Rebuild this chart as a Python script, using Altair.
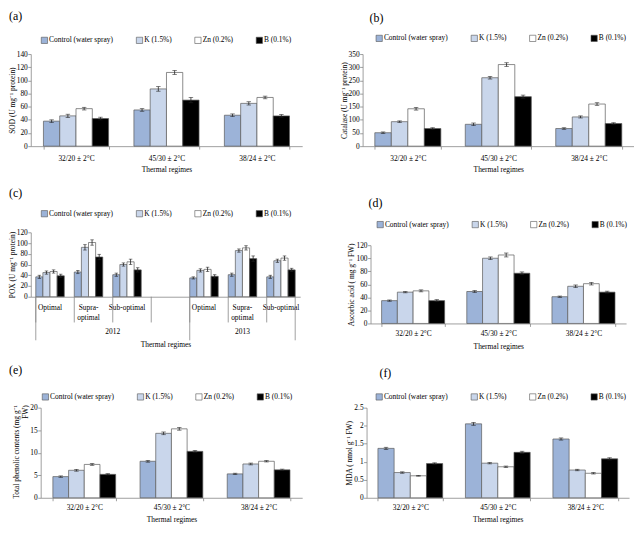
import altair as alt
import pandas as pd

FONT = "Liberation Serif"

treatments = ["Control (water spray)", "K (1.5%)", "Zn (0.2%)", "B (0.1%)"]
fill_colors = ["#9cb3d8", "#c9d6eb", "#ffffff", "#000000"]
regimes = ["32/20 ± 2°C", "45/30 ± 2°C", "38/24 ± 2°C"]

# (a) SOD
sod_control = [38, 55, 47]
sod_k = [46, 87, 65]
sod_zn = [57, 112, 74]
sod_b = [42, 70, 46]
sod_err = [[2, 2, 2], [2.5, 3.5, 2.5], [2, 3, 2], [2, 4, 2]]

# (b) Catalase
cat_control = [51, 83, 67]
cat_k = [93, 260, 111]
cat_zn = [142, 310, 160]
cat_b = [67, 188, 86]
cat_err = [[3, 5, 3], [3, 5, 4], [5, 7, 5], [3, 6, 3]]

# (c) POX, two years x three regimes (+ an empty slot after 2012)
pox_axis = ["2012|Optimal", "2012|Supra-~optimal", "2012|Sub-optimal", "2012|",
            "2013|Optimal", "2013|Supra-~optimal", "2013|Sub-optimal"]
pox_cats = ["2012|Optimal", "2012|Supra-~optimal", "2012|Sub-optimal",
            "2013|Optimal", "2013|Supra-~optimal", "2013|Sub-optimal"]
pox_control = [37, 46, 41, 35, 41, 37]
pox_k = [45, 92, 60, 49, 86, 67]
pox_zn = [47, 101, 65, 51, 91, 72]
pox_b = [39, 74, 50, 38, 71, 50]
pox_err = [[3, 3, 3, 2, 3, 3], [3, 5, 3, 3, 3, 3], [3, 5, 5, 4, 4, 4], [3, 5, 4, 3, 5, 3]]
pox_short_sep = pox_axis
pox_long_sep_start = ["2012|Optimal", "2013|Optimal"]
pox_long_sep_end = ["2013|Sub-optimal"]
pox_year_2012 = ["2012|Sub-optimal"]
pox_year_2013 = ["2013|Supra-~optimal"]

# (d) Ascorbic acid
asc_control = [35, 49, 41]
asc_k = [48, 100, 57]
asc_zn = [50, 105, 61]
asc_b = [35, 77, 48]
asc_err = [[1, 1.5, 1], [1, 2, 2], [1.5, 3, 2], [1.5, 2, 1.5]]

# (e) Total phenolic contents
phe_control = [4.7, 8.1, 5.3]
phe_k = [6.1, 14.3, 7.5]
phe_zn = [7.4, 15.3, 8.1]
phe_b = [5.2, 10.3, 6.2]
phe_err = [[0.15, 0.2, 0.15], [0.2, 0.3, 0.2], [0.2, 0.3, 0.15], [0.15, 0.2, 0.15]]

# (f) MDA
mda_control = [1.37, 2.05, 1.63]
mda_k = [0.70, 0.96, 0.77]
mda_zn = [0.61, 0.86, 0.68]
mda_b = [0.95, 1.26, 1.08]
mda_err = [[0.03, 0.04, 0.03], [0.02, 0.02, 0.02], [0.01, 0.02, 0.02], [0.02, 0.03, 0.03]]

AXIS_GRAY = "#868686"
C_H = 65


def make_panel(domain, cats, series, errors, ytitle, ymax, ystep, width, height,
               label, label_x, label_y, legend_x, legend_y, pad_inner,
               x_range=None, y_range=None, y_offset=0, y_format="d",
               x_axis_extra=None, y_axis_extra=None, extra_layers=None, cap=4.5):
    records = []
    for trt, vals, errs in zip(treatments, series, errors):
        for c, v, e in zip(cats, vals, errs):
            records.append({"cat": c, "trt": trt, "val": v, "lo": v - e, "hi": v + e})
    df = pd.DataFrame(records)

    xs_kw = dict(domain=domain, paddingInner=pad_inner, paddingOuter=pad_inner / 2)
    if x_range is not None:
        xs_kw["range"] = x_range
    xs = alt.Scale(**xs_kw)
    ys_kw = dict(domain=[0, ymax], nice=False, zero=True)
    if y_range is not None:
        ys_kw["range"] = y_range
    ys = alt.Scale(**ys_kw)
    nt = int(round(ymax / ystep))
    tick_vals = [round(i * ystep, 3) for i in range(nt + 1)]

    xa = dict(title="Thermal regimes", labelAngle=0, tickBand="extent", tickSize=3,
              labelPadding=3, titlePadding=4)
    if x_axis_extra:
        xa.update(x_axis_extra)
    ya = dict(title=ytitle, values=tick_vals, tickSize=3, labelPadding=0.5,
              titlePadding=0, format=y_format, offset=y_offset)
    if y_axis_extra:
        ya.update(y_axis_extra)
    x_axis = alt.Axis(**xa)
    y_axis = alt.Axis(**ya)

    xo = alt.XOffset("trt:N", scale=alt.Scale(domain=treatments, paddingInner=0, paddingOuter=0))
    base = alt.Chart(df)
    bars = base.mark_bar(stroke="#5a5a5a", strokeWidth=0.7).encode(
        x=alt.X("cat:N", scale=xs, axis=x_axis),
        xOffset=xo,
        y=alt.Y("val:Q", scale=ys, axis=y_axis),
        color=alt.Color("trt:N", scale=alt.Scale(domain=treatments, range=fill_colors),
                        legend=alt.Legend(orient="none", legendX=legend_x, legendY=legend_y,
                                          direction="horizontal", title=None,
                                          symbolType="square", symbolSize=40,
                                          symbolStrokeColor="#555", symbolStrokeWidth=0.6,
                                          labelFont=FONT, labelFontSize=7.5, labelOffset=1,
                                          columnPadding=21)),
    )
    stems = base.mark_rule(color="#222", strokeWidth=0.8).encode(
        x=alt.X("cat:N", scale=xs, axis=x_axis), xOffset=xo,
        y=alt.Y("lo:Q", scale=ys, axis=y_axis), y2="hi:Q")
    caps_lo = base.mark_tick(color="#222", size=cap, thickness=0.8, orient="horizontal").encode(
        x=alt.X("cat:N", scale=xs, axis=x_axis), xOffset=xo,
        y=alt.Y("lo:Q", scale=ys, axis=y_axis))
    caps_hi = base.mark_tick(color="#222", size=cap, thickness=0.8, orient="horizontal").encode(
        x=alt.X("cat:N", scale=xs, axis=x_axis), xOffset=xo,
        y=alt.Y("hi:Q", scale=ys, axis=y_axis))
    tag = alt.Chart(pd.DataFrame({"t": [label]})).mark_text(
        font=FONT, fontSize=12, align="left", baseline="middle", color="#000").encode(
        x=alt.value(label_x), y=alt.value(label_y), text="t:N")
    layers = [bars, stems, caps_lo, caps_hi, tag]
    if extra_layers:
        layers += extra_layers(xs, x_axis)
    return alt.layer(*layers).properties(width=width, height=height)


def pox_extras(xs, x_axis):
    h = C_H
    sep_short = alt.Chart(pd.DataFrame({"cat": pox_short_sep})).mark_rule(
        color=AXIS_GRAY, strokeWidth=0.8).encode(
        x=alt.X("cat:N", scale=xs, bandPosition=0, axis=x_axis),
        y=alt.value(h), y2=alt.value(h + 26))
    sep_long = alt.Chart(pd.DataFrame({"cat": pox_long_sep_start})).mark_rule(
        color=AXIS_GRAY, strokeWidth=0.8).encode(
        x=alt.X("cat:N", scale=xs, bandPosition=0, axis=x_axis),
        y=alt.value(h), y2=alt.value(h + 44))
    sep_end = alt.Chart(pd.DataFrame({"cat": pox_long_sep_end})).mark_rule(
        color=AXIS_GRAY, strokeWidth=0.8).encode(
        x=alt.X("cat:N", scale=xs, bandPosition=1, axis=x_axis),
        y=alt.value(h), y2=alt.value(h + 44))
    y12 = alt.Chart(pd.DataFrame({"cat": pox_year_2012, "t": ["2012"]})).mark_text(
        font=FONT, fontSize=7.5, baseline="middle").encode(
        x=alt.X("cat:N", scale=xs, bandPosition=0, axis=x_axis),
        y=alt.value(h + 36), text="t:N")
    y13 = alt.Chart(pd.DataFrame({"cat": pox_year_2013, "t": ["2013"]})).mark_text(
        font=FONT, fontSize=7.5, baseline="middle").encode(
        x=alt.X("cat:N", scale=xs, bandPosition=0.5, axis=x_axis),
        y=alt.value(h + 36), text="t:N")
    return [sep_short, sep_long, sep_end, y12, y13]


panel_a = make_panel(regimes, regimes, [sod_control, sod_k, sod_zn, sod_b], sod_err,
                     "SOD (U mg⁻¹ protein)", 140, 20, 274, 93,
                     "(a)", -22, -38, 10, -18, 0.28,
                     x_axis_extra=dict(labelPadding=5, titlePadding=4))
panel_b = make_panel(regimes, regimes, [cat_control, cat_k, cat_zn, cat_b], cat_err,
                     "Catalase (U mg⁻¹ protein)", 350, 50, 274, 93,
                     "(b)", 7, -36, 13, -20, 0.27,
                     x_axis_extra=dict(labelPadding=5, titlePadding=4))
panel_c = make_panel(pox_axis, pox_cats, [pox_control, pox_k, pox_zn, pox_b], pox_err,
                     "POX (U mg⁻¹ protein)", 120, 20, 272, C_H,
                     "(c)", -22, -40, 10, -23, 0.26, cap=3.5,
                     x_axis_extra=dict(ticks=False, tickBand="center", labelPadding=7,
                                       labelLineHeight=10, titlePadding=20,
                                       labelExpr="split(split(datum.value, '|')[1], '~')"),
                     extra_layers=pox_extras)
panel_d = make_panel(regimes, regimes, [asc_control, asc_k, asc_zn, asc_b], asc_err,
                     "Ascorbic acid ( mg  g⁻¹ FW)", 120, 20, 266, 92,
                     "(d)", 6, -30, 14, -12, 0.26,
                     x_range=[8, 266], y_offset=-8, y_range=[92, 13],
                     x_axis_extra=dict(labelPadding=3, titlePadding=6))
panel_e = make_panel(regimes, regimes, [phe_control, phe_k, phe_zn, phe_b], phe_err,
                     ["Total phenolic contents (mg g⁻¹", "FW)"], 20, 5, 274, 91,
                     "(e)", -22, -38, 11, -15, 0.28,
                     x_range=[10, 274], y_offset=-10,
                     x_axis_extra=dict(labelPadding=3, titlePadding=4),
                     y_axis_extra=dict(titleAlign="right", titleY=-3))
panel_f = make_panel(regimes, regimes, [mda_control, mda_k, mda_zn, mda_b], mda_err,
                     "MDA ( nmol g⁻¹ FW)", 2.5, 0.5, 269, 91,
                     "(f)", 17, -35, 13, -15, 0.26, y_format="~g",
                     x_range=[4, 269], y_offset=-4,
                     x_axis_extra=dict(labelPadding=3, titlePadding=4))

chart = alt.concat(
    panel_a, panel_b, panel_c, panel_d, panel_e, panel_f,
    columns=2, spacing={"row": 14, "column": 38},
).resolve_scale(color="independent", xOffset="independent").resolve_legend(
    color="independent"
).properties(padding=0).configure_view(stroke=None).configure_axis(
    domainColor=AXIS_GRAY, tickColor=AXIS_GRAY, domainWidth=0.8, tickWidth=0.8,
    labelFont=FONT, titleFont=FONT, labelFontSize=7.5, titleFontSize=7.5,
    titleFontWeight="normal", labelColor="#000", titleColor="#000", grid=False,
).configure_text(font=FONT)

chart.save("out.html", embed_options={"renderer": "svg", "actions": False})
